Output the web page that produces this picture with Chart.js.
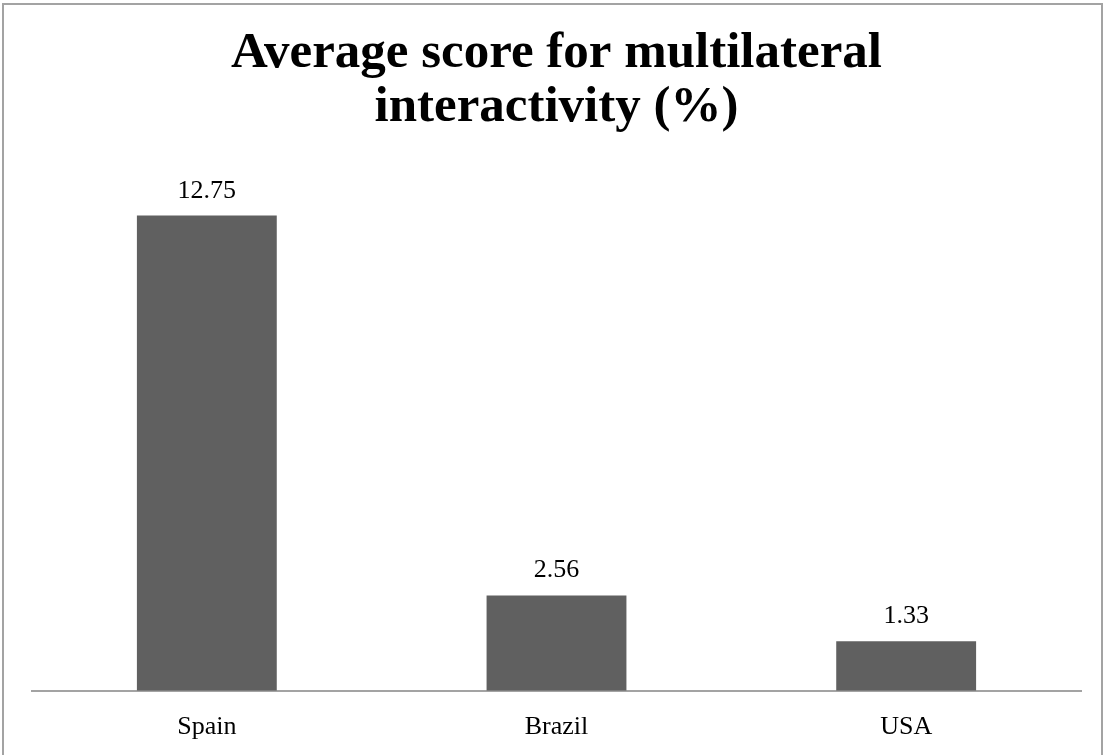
<!DOCTYPE html>
<html>
<head>
<meta charset="utf-8">
<script src="https://cdn.jsdelivr.net/npm/chart.js@4"></script>
<style>
  html, body { margin: 0; padding: 0; background: #ffffff; overflow: hidden; }
  #frame { position: absolute; left: 2px; top: 3px; width: 1097px; height: 800px; border: 2px solid #a3a3a3; box-sizing: content-box; }
  #c { position: absolute; left: 0; top: 0; }
</style>
</head>
<body>
<div id="frame"></div>
<canvas id="c" width="1110" height="755"></canvas>
<script>
const categories = ["Spain", "Brazil", "USA"];
const scores = [12.75, 2.56, 1.33];
const valueLabels = ["12.75", "2.56", "1.33"];
const titleLines = ["Average score for multilateral", "interactivity (%)"];

const SERIF = "'Liberation Serif', 'Times New Roman', serif";

const valueLabelPlugin = {
  id: 'valueLabels',
  afterDatasetsDraw(chart) {
    const ctx = chart.ctx;
    const meta = chart.getDatasetMeta(0);
    ctx.save();
    ctx.font = "26px " + SERIF;
    ctx.fillStyle = "#000000";
    ctx.textAlign = "center";
    ctx.textBaseline = "alphabetic";
    meta.data.forEach((bar, i) => {
      ctx.fillText(valueLabels[i], bar.x, bar.y - 18);
    });
    ctx.restore();
  }
};

new Chart(document.getElementById('c'), {
  type: 'bar',
  data: {
    labels: categories,
    datasets: [{
      data: scores,
      backgroundColor: '#606060',
      borderWidth: 0,
      barPercentage: 0.4,
      categoryPercentage: 1.0
    }]
  },
  options: {
    responsive: false,
    animation: false,
    layout: { padding: { left: 32, right: 29, top: 0, bottom: -9 } },
    plugins: {
      legend: { display: false },
      tooltip: { enabled: false },
      title: {
        display: true,
        text: titleLines,
        color: '#000000',
        font: { family: SERIF, size: 51, weight: 'bold', lineHeight: '54px' },
        padding: { top: 27, bottom: 34 }
      }
    },
    scales: {
      x: {
        grid: { display: false, drawTicks: false },
        border: { display: true, color: '#a3a3a3', width: 2 },
        ticks: {
          color: '#000000',
          padding: 21,
          font: { family: SERIF, size: 26, lineHeight: 1.2 }
        }
      },
      y: {
        display: false,
        min: 0,
        max: 14
      }
    }
  },
  plugins: [valueLabelPlugin]
});
</script>
</body>
</html>
